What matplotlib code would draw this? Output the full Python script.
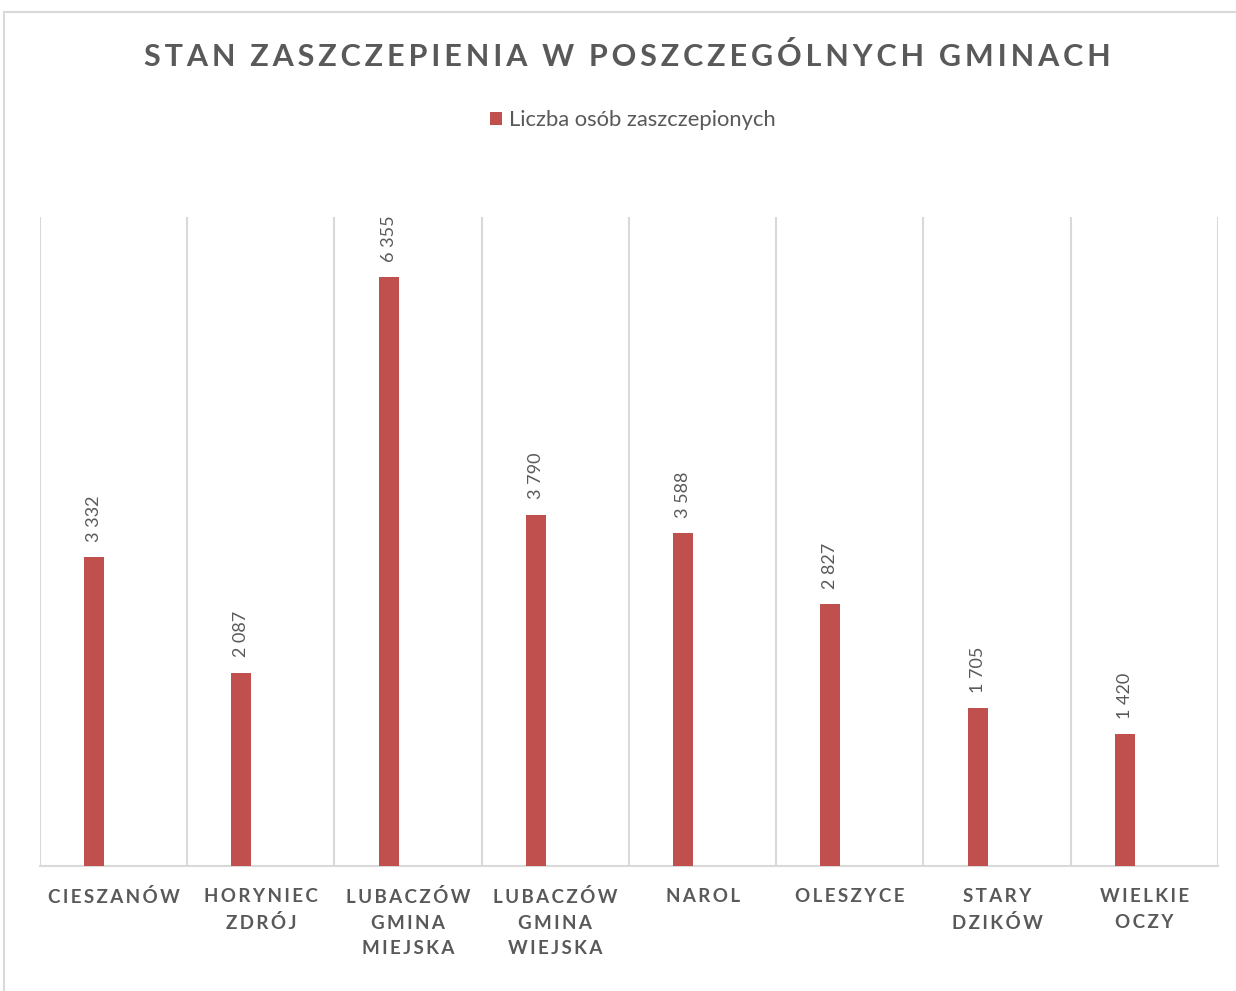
import matplotlib
matplotlib.use("Agg")
import matplotlib.pyplot as plt
from matplotlib.lines import Line2D
from matplotlib.patches import Patch

categories = ["CIESZANÓW", "HORYNIEC\nZDRÓJ", "LUBACZÓW\nGMINA\nMIEJSKA",
              "LUBACZÓW\nGMINA\nWIEJSKA", "NAROL", "OLESZYCE", "STARY\nDZIKÓW",
              "WIELKIE\nOCZY"]
values = [3332, 2087, 6355, 3790, 3588, 2827, 1705, 1420]
series_name = "Liczba osób zaszczepionych"
title = "STAN ZASZCZEPIENIA W POSZCZEGÓLNYCH GMINACH"

BAR = "#C0504D"
TXT = "#595959"
GRID = "#D9D9D9"
FONT = ["Lato", "DejaVu Sans"]


def spaced(s, gap=" ", wgap="   "):
    lines = []
    for line in s.split("\n"):
        words = [gap.join(list(w)) for w in line.split(" ")]
        lines.append(wgap.join(words))
    return "\n".join(lines)


def fmt(v):
    return f"{v:,}".replace(",", " ")


fig = plt.figure(figsize=(12.36, 9.91), dpi=100)
ax = fig.add_axes([40 / 1236, 1 - 866 / 991, (1218 - 40) / 1236, (866 - 217) / 991])

n = len(categories)
xs = [i + 0.367 for i in range(n)]
bars = ax.bar(xs, values, width=0.136, color=BAR, zorder=3)
for x, v in zip(xs, values):
    ax.annotate(fmt(v), (x, v), xytext=(0, 11), textcoords="offset points",
                rotation=90, ha="center", va="bottom", color=TXT,
                fontsize=13, family=FONT)

ax.set_xlim(0, n)
ax.set_ylim(0, 7000)
ax.set_yticks([])
ax.set_xticks([i + 0.5 for i in range(n)])
ax.set_xticklabels([spaced(c, "\u2009") for c in categories], fontsize=13.5,
                   fontweight="bold", color=TXT, family=FONT, linespacing=1.6)
ax.tick_params(axis="x", length=0, pad=16)
for i in range(n + 1):
    ax.axvline(i, color=GRID, lw=1.5, zorder=1)
for s in ["top", "right", "left"]:
    ax.spines[s].set_visible(False)
ax.spines["bottom"].set_color(GRID)
ax.spines["bottom"].set_linewidth(1.5)

fig.text(627 / 1236, 1 - 57 / 991, spaced(title, "\u2009", "  "), ha="center", va="center",
         fontsize=22, fontweight="bold", color=TXT, family=FONT)

handle = Patch(facecolor=BAR, edgecolor="none")
fig.legend([handle], [series_name], loc="center", bbox_to_anchor=(633 / 1236, 1 - 120 / 991),
           frameon=False, prop={"family": FONT, "size": 15.8}, labelcolor=TXT,
           handlelength=0.55, handleheight=0.55, handletextpad=0.3)

fig.add_artist(Line2D([4 / 1236, 1], [1 - 12 / 991, 1 - 12 / 991], color=GRID, lw=1.5,
                      transform=fig.transFigure))
fig.add_artist(Line2D([4 / 1236, 4 / 1236], [0, 1 - 12 / 991], color=GRID, lw=1.5,
                      transform=fig.transFigure))

fig.savefig("out.png", dpi=100, facecolor="white")
